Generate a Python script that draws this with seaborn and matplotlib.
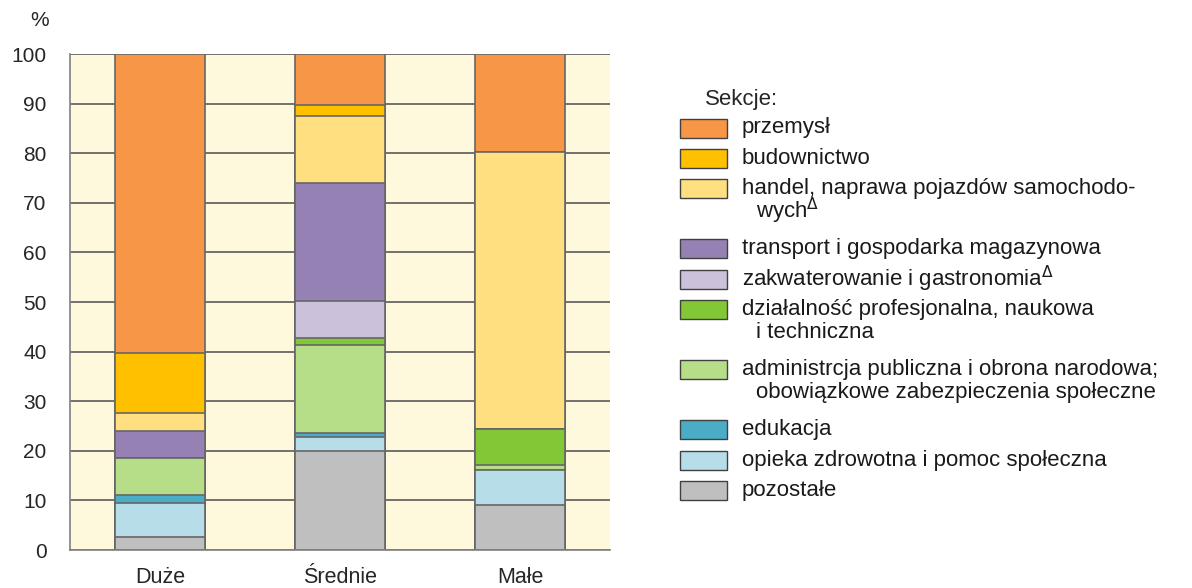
import matplotlib
matplotlib.use('Agg')
import pandas as pd
import matplotlib.pyplot as plt
import seaborn as sns
from matplotlib.patches import Rectangle

# Udział sekcji wg wielkości przedsiębiorstw (%)
wielkosc = ['Duże', 'Średnie', 'Małe']

# od dołu do góry słupka
pozostale = [2.6, 20.0, 9.1]
opieka = [6.9, 2.7, 7.0]
edukacja = [1.6, 0.8, 0.0]
administracja = [7.4, 17.9, 1.1]
dzialalnosc = [0.0, 1.3, 7.1]
zakwaterowanie = [0.0, 7.6, 0.0]
transport = [5.4, 23.6, 0.0]
handel = [3.8, 13.7, 55.9]
budownictwo = [12.0, 2.2, 0.0]
przemysl = [60.3, 10.2, 19.8]

y_ticks = list(range(0, 101, 10))

etykiety = [
    ['przemysł'],
    ['budownictwo'],
    ['handel, naprawa pojazdów samochodo-', 'wych$^{\\Delta}$'],
    ['transport i gospodarka magazynowa'],
    ['zakwaterowanie i gastronomia$^{\\Delta}$'],
    ['działalność profesjonalna, naukowa', 'i techniczna'],
    ['administrcja publiczna i obrona narodowa;', 'obowiązkowe zabezpieczenia społeczne'],
    ['edukacja'],
    ['opieka zdrowotna i pomoc społeczna'],
    ['pozostałe'],
]

kolory = ['#F79646', '#FFC000', '#FFDF80', '#9581B3', '#CCC1DA',
          '#82C736', '#B6DD88', '#4BACC6', '#B7DDE8', '#BFBFBF']

# tabela, kolejność od dołu
df = pd.DataFrame({
    'pozostałe': pozostale,
    'opieka': opieka,
    'edukacja': edukacja,
    'administracja': administracja,
    'działalność': dzialalnosc,
    'zakwaterowanie': zakwaterowanie,
    'transport': transport,
    'handel': handel,
    'budownictwo': budownictwo,
    'przemysł': przemysl,
}, index=wielkosc)
cum = df.cumsum(axis=1)

sns.set_style('white')
plt.rcParams['font.family'] = ['Liberation Sans', 'DejaVu Sans']

W, H = 1192, 588
fig = plt.figure(figsize=(W / 100, H / 100), dpi=100)
ax = fig.add_axes([70 / W, 1 - 550 / H, 540 / W, 496 / H])

# słupki skumulowane: rysowane od najwyższej warstwy w dół
kol_dol = kolory[::-1]
for i in range(len(df.columns) - 1, -1, -1):
    sns.barplot(x=wielkosc, y=cum.iloc[:, i].values, color=kol_dol[i],
                saturation=1, width=0.5, edgecolor='#666666', linewidth=1.2,
                ax=ax)

ax.set_facecolor('#FEF8DC')
ax.set_ylim(0, 100)
ax.set_xlim(-0.5, 2.5)
ax.set_yticks(y_ticks)
ax.yaxis.grid(True, color='#5a5a5a', linewidth=1.2)
ax.set_axisbelow(True)
for s in ['top', 'right']:
    ax.spines[s].set_visible(False)
for s in ['left', 'bottom']:
    ax.spines[s].set_color('#808080')
    ax.spines[s].set_linewidth(1.2)
ax.tick_params(axis='y', length=0, pad=17, labelsize=15)
ax.tick_params(axis='x', length=0, pad=12, labelsize=15.5)
ax.set_xlabel('')
ax.set_ylabel('')
fig.text(40 / W, 1 - 20 / H, '%', ha='center', va='center', fontsize=15)

# legenda
fs = 16
fig.text(705 / W, 1 - 99 / H, 'Sekcje:', ha='left', va='center', fontsize=fs)
y = 128
for lab, kol in zip(etykiety, kolory):
    fig.add_artist(Rectangle((680 / W, 1 - (y + 9.5) / H), 47 / W, 19 / H,
                             transform=fig.transFigure, facecolor=kol,
                             edgecolor='#404040', linewidth=1))
    fig.text(742 / W, 1 - y / H, lab[0], ha='left', va='center', fontsize=fs,
             color='#1a1a1a')
    if len(lab) > 1:
        fig.text(756 / W, 1 - (y + 23) / H, lab[1], ha='left', va='center',
                 fontsize=fs, color='#1a1a1a')
    y += 30.2 * len(lab)

fig.savefig('out.png', dpi=100)
